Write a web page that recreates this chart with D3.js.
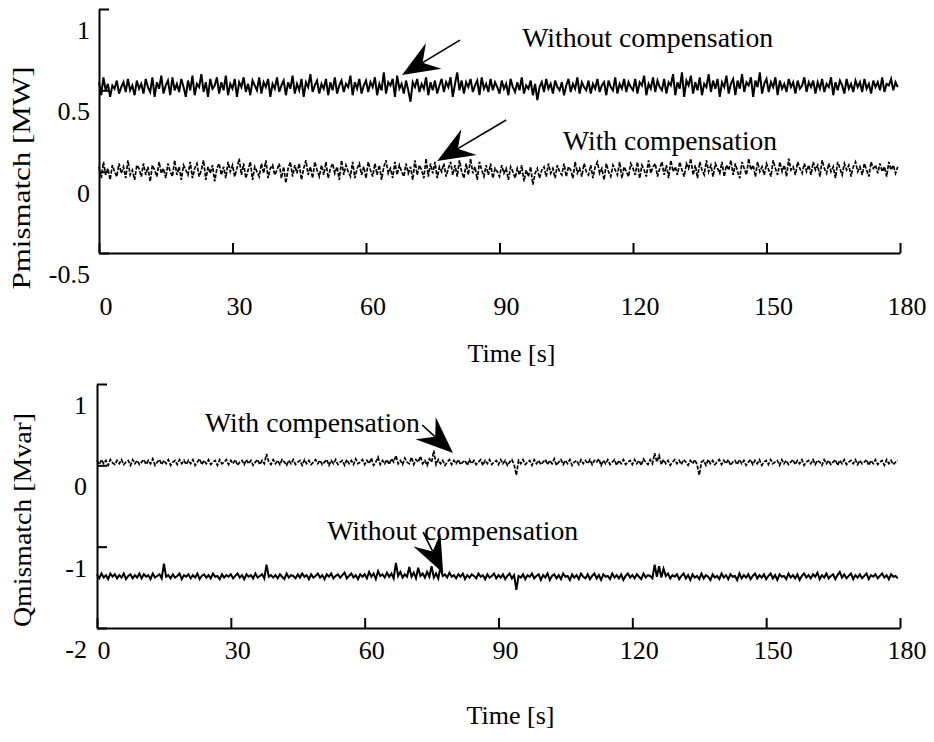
<!DOCTYPE html>
<html><head><meta charset="utf-8">
<script src="https://cdn.jsdelivr.net/npm/d3@7"></script>
<style>
html,body{margin:0;padding:0;background:#fff;}
svg text{font-family:"Liberation Serif","Times New Roman",Times,serif;fill:#000;}
</style></head>
<body><svg id="c" width="934" height="742"></svg>
<script>
// ---------- data ----------
const xTicks = [0, 30, 60, 90, 120, 150, 180];
const pTicks = [-0.5, 0, 0.5, 1];
const qTicks = [-2, -1, 0, 1];
const pTickLabels = ["-0.5", "0", "0.5", "1"];
const qTickLabels = ["-2", "-1", "0", "1"];
const sampleStep = 0.5;
const time = d3.range(0, 180, sampleStep);

const pWithout = [
.55,.47,.58,.50,.54,.46,.53,.51,.56,.48,.52,.55,.49,.57,.50,.53,.47,.56,.51,.54,
.48,.57,.52,.49,.58,.46,.55,.51,.59,.48,.53,.56,.47,.58,.50,.54,.49,.57,.52,.46,
.56,.50,.59,.47,.54,.52,.60,.49,.55,.46,.57,.51,.53,.58,.48,.55,.50,.59,.47,.54,
.51,.57,.46,.55,.52,.58,.49,.54,.47,.56,.53,.50,.58,.48,.55,.52,.57,.46,.54,.51,
.58,.49,.53,.56,.47,.55,.51,.59,.48,.54,.50,.57,.46,.55,.52,.60,.49,.53,.56,.48,
.54,.51,.57,.47,.55,.50,.58,.48,.53,.56,.49,.54,.52,.59,.47,.55,.51,.57,.48,.53,
.56,.49,.55,.52,.58,.47,.54,.50,.61,.48,.55,.53,.57,.46,.59,.51,.54,.48,.56,.50,
.43,.55,.52,.57,.49,.54,.51,.58,.47,.55,.50,.56,.48,.53,.57,.49,.55,.52,.58,.46,
.54,.61,.50,.56,.48,.55,.52,.57,.49,.53,.56,.47,.58,.51,.54,.49,.57,.50,.55,.52,
.48,.56,.51,.54,.47,.57,.52,.49,.55,.50,.58,.48,.53,.51,.56,.47,.54,.44,.52,.55,
.49,.57,.51,.54,.48,.56,.52,.50,.55,.47,.53,.57,.49,.54,.51,.58,.48,.55,.52,.50,
.56,.48,.54,.51,.57,.49,.53,.55,.47,.56,.52,.50,.58,.48,.54,.51,.57,.49,.55,.52,
.50,.57,.48,.55,.53,.59,.47,.54,.51,.58,.49,.56,.52,.50,.57,.48,.55,.53,.60,.47,
.55,.51,.61,.46,.56,.53,.59,.48,.55,.50,.58,.47,.54,.52,.60,.49,.56,.51,.57,.46,
.55,.52,.59,.48,.54,.57,.47,.56,.51,.60,.49,.55,.53,.58,.46,.56,.52,.61,.48,.54,
.57,.49,.55,.52,.58,.47,.56,.51,.54,.49,.57,.52,.55,.48,.56,.51,.53,.58,.49,.55,
.52,.56,.48,.55,.51,.57,.49,.54,.52,.58,.47,.55,.50,.56,.53,.48,.57,.51,.54,.49,
.56,.52,.55,.49,.57,.51,.54,.48,.56,.52,.55,.50,.58,.49,.54,.53,.57,.50,.55,.52];

const pWith = [
.03,-.04,.06,-.02,.02,-.05,.04,.00,-.03,.05,-.01,.03,-.04,.07,-.02,.01,-.05,.04,.02,-.03,
.05,-.02,.03,-.06,.04,.01,-.03,.06,-.01,.02,-.04,.05,.00,-.03,.07,-.02,.03,-.05,.04,.01,
-.02,.06,-.04,.02,.05,-.03,.01,.07,-.05,.03,-.01,.04,-.06,.02,.05,-.02,.03,-.04,.06,.00,
.04,-.03,.02,.08,-.02,.05,-.04,.01,.06,-.05,.03,.00,-.03,.05,-.01,.07,-.04,.02,.04,-.02,
.01,.05,-.04,.03,-.07,.02,.06,-.03,.04,-.01,.05,-.05,.02,.07,-.02,.03,-.04,.06,.01,-.03,
.04,-.02,.06,-.04,.02,.05,-.01,.03,-.05,.07,-.02,.04,.00,-.03,.06,-.04,.02,.05,-.02,.03,
-.04,.06,.01,-.03,.05,-.02,.04,-.05,.03,.07,-.01,.02,-.04,.06,-.02,.04,.00,-.03,.05,-.01,
.03,-.05,.07,-.02,.04,.01,-.04,.08,-.03,.05,-.01,.06,-.04,.03,.00,.05,-.03,.02,.06,-.02,
.04,-.03,.07,.00,-.04,.05,-.02,.08,-.01,.03,-.05,.06,.01,-.03,.04,-.02,.05,-.04,.02,.00,
-.03,.04,-.01,.02,-.05,.03,.00,-.04,.02,-.02,.04,-.06,.01,-.03,.03,-.08,-.01,.02,-.04,.01,
.03,-.03,.05,-.01,.02,-.04,.04,.00,-.02,.05,-.03,.03,.01,-.04,.06,-.01,.02,-.03,.05,.00,
-.02,.04,-.04,.03,.06,-.01,.02,-.05,.05,.00,-.03,.04,.01,-.02,.06,-.04,.03,.00,-.03,.05,
.02,-.02,.06,-.04,.04,.01,-.03,.07,-.01,.03,.05,-.03,.02,.06,-.02,.04,-.04,.07,.00,.03,
-.02,.06,.01,-.03,.05,.02,.08,-.02,.04,-.04,.06,.01,-.02,.07,.00,.04,-.03,.05,.02,-.01,
.06,-.03,.04,.01,.07,-.02,.05,.00,-.04,.06,.02,-.02,.08,.01,.04,-.03,.06,.00,.03,-.02,
.05,.01,-.03,.07,.02,-.02,.06,.00,.04,-.03,.08,.01,.03,-.02,.06,.02,-.01,.05,.00,.04,
-.02,.06,.01,.04,-.03,.07,.02,-.01,.05,.00,.03,-.04,.06,.02,-.02,.05,.01,.04,-.03,.03,
.06,.00,.03,-.02,.05,.01,-.03,.06,.02,.04,-.01,.05,.00,.03,-.03,.06,.01,.04,-.01,.03];

const qWithout = [
-1.34,-1.39,-1.33,-1.38,-1.35,-1.40,-1.33,-1.37,-1.34,-1.39,-1.35,-1.38,-1.33,-1.40,-1.36,-1.34,-1.39,-1.35,-1.38,-1.33,
-1.39,-1.34,-1.37,-1.35,-1.40,-1.33,-1.38,-1.36,-1.34,-1.39,-1.21,-1.37,-1.35,-1.39,-1.34,-1.38,-1.36,-1.33,-1.40,-1.35,
-1.37,-1.34,-1.39,-1.35,-1.38,-1.33,-1.40,-1.36,-1.34,-1.38,-1.35,-1.39,-1.33,-1.37,-1.36,-1.40,-1.34,-1.38,-1.35,-1.37,
-1.34,-1.39,-1.36,-1.33,-1.38,-1.35,-1.40,-1.34,-1.37,-1.35,-1.39,-1.33,-1.38,-1.36,-1.34,-1.39,-1.22,-1.37,-1.35,-1.38,
-1.35,-1.39,-1.34,-1.37,-1.40,-1.33,-1.38,-1.35,-1.36,-1.39,-1.34,-1.38,-1.33,-1.37,-1.35,-1.40,-1.34,-1.38,-1.36,-1.33,
-1.38,-1.35,-1.40,-1.34,-1.37,-1.33,-1.39,-1.36,-1.34,-1.38,-1.35,-1.32,-1.39,-1.36,-1.33,-1.38,-1.35,-1.40,-1.34,-1.37,
-1.34,-1.39,-1.31,-1.37,-1.33,-1.40,-1.30,-1.36,-1.34,-1.38,-1.32,-1.37,-1.33,-1.39,-1.20,-1.36,-1.31,-1.38,-1.34,-1.37,
-1.25,-1.37,-1.32,-1.39,-1.26,-1.36,-1.33,-1.38,-1.31,-1.37,-1.24,-1.38,-1.33,-1.39,-1.25,-1.36,-1.34,-1.38,-1.32,-1.37,
-1.35,-1.39,-1.34,-1.37,-1.33,-1.40,-1.35,-1.38,-1.34,-1.36,-1.39,-1.33,-1.37,-1.35,-1.40,-1.34,-1.38,-1.36,-1.33,-1.39,
-1.35,-1.38,-1.34,-1.40,-1.36,-1.33,-1.39,-1.35,-1.53,-1.36,-1.38,-1.34,-1.40,-1.35,-1.37,-1.33,-1.39,-1.36,-1.34,-1.41,
-1.35,-1.38,-1.33,-1.41,-1.36,-1.34,-1.39,-1.35,-1.40,-1.33,-1.37,-1.36,-1.41,-1.34,-1.38,-1.35,-1.40,-1.33,-1.37,-1.39,
-1.34,-1.40,-1.36,-1.33,-1.39,-1.35,-1.41,-1.34,-1.37,-1.36,-1.40,-1.33,-1.38,-1.35,-1.39,-1.34,-1.41,-1.36,-1.33,-1.38,
-1.35,-1.39,-1.34,-1.37,-1.40,-1.33,-1.38,-1.35,-1.36,-1.39,-1.22,-1.37,-1.24,-1.38,-1.27,-1.36,-1.33,-1.39,-1.35,-1.37,
-1.34,-1.40,-1.36,-1.33,-1.39,-1.35,-1.41,-1.34,-1.38,-1.36,-1.40,-1.33,-1.39,-1.35,-1.37,-1.41,-1.34,-1.38,-1.36,-1.40,
-1.33,-1.38,-1.35,-1.40,-1.34,-1.37,-1.36,-1.41,-1.33,-1.39,-1.35,-1.38,-1.34,-1.40,-1.36,-1.33,-1.39,-1.35,-1.38,-1.34,
-1.40,-1.36,-1.33,-1.39,-1.35,-1.41,-1.34,-1.37,-1.36,-1.40,-1.33,-1.38,-1.35,-1.39,-1.34,-1.41,-1.36,-1.33,-1.38,-1.35,
-1.39,-1.34,-1.37,-1.32,-1.40,-1.35,-1.38,-1.33,-1.39,-1.36,-1.34,-1.40,-1.35,-1.31,-1.38,-1.34,-1.39,-1.36,-1.33,-1.40,
-1.35,-1.38,-1.34,-1.39,-1.36,-1.33,-1.40,-1.35,-1.37,-1.34,-1.39,-1.36,-1.33,-1.38,-1.35,-1.40,-1.34,-1.37,-1.36,-1.39];

const qWith = [
.06,.01,.07,.02,.06,.00,.07,.03,.01,.06,.02,.07,.01,.04,.06,.00,.07,.02,.06,.01,
.04,.07,.01,.06,.02,.08,.00,.04,.07,.01,.06,.02,.07,.00,.04,.06,.01,.07,.02,.06,
.01,.06,.02,.07,.00,.04,.08,.01,.06,.02,.07,.01,.04,.06,.00,.07,.02,.04,.07,.01,
.06,.02,.07,.00,.04,.06,.01,.07,.02,.06,.00,.04,.07,.01,.06,.02,.14,.04,.01,.07,
.02,.06,.01,.07,.04,.00,.06,.02,.07,.01,.04,.06,.00,.07,.02,.06,.01,.04,.07,.02,
.06,.01,.04,.07,.00,.06,.02,.07,.01,.04,.06,.00,.07,.02,.06,.01,.08,.02,.04,.07,
.01,.06,.02,.09,.00,.04,.10,.01,.06,.02,.07,.01,.08,.04,.12,.02,.06,.01,.09,.04,
.02,.10,.01,.07,.04,.11,.02,.06,.00,.08,.04,.18,.01,.07,.02,.06,.00,.04,.07,.01,
.06,.02,.07,.01,.04,.06,.00,.07,.02,.06,.01,.04,.07,.00,.06,.02,.07,.01,.04,.06,
.01,.07,.02,.06,.00,.04,.07,.01,-.12,.06,.02,.07,.01,.04,.06,.00,.07,.02,.06,.01,
.04,.07,.01,.06,.02,.08,.00,.04,.07,.01,.06,.02,.07,.00,.04,.06,.01,.07,.02,.06,
.02,.07,.01,.06,.04,.08,.00,.06,.02,.07,.01,.04,.07,.00,.06,.02,.07,.01,.04,.06,
.01,.07,.02,.06,.00,.08,.04,.01,.07,.02,.15,.04,.12,.01,.07,.02,.06,.00,.04,.07,
.02,.06,.01,.07,.04,.00,.06,.02,.07,.01,-.12,.04,.06,.00,.07,.02,.06,.01,.04,.07,
.01,.06,.02,.07,.00,.04,.06,.01,.07,.02,.06,.00,.04,.07,.01,.06,.02,.07,.00,.04,
.06,.01,.07,.02,.04,.06,.00,.07,.02,.06,.01,.04,.07,.01,.06,.02,.07,.00,.04,.06,
.02,.07,.01,.06,.04,.00,.07,.02,.06,.01,.04,.07,.00,.06,.02,.07,.01,.04,.06,.02,
.07,.01,.06,.02,.04,.07,.00,.06,.02,.07,.01,.04,.06,.00,.07,.02,.06,.01,.04,.06];

// annotations (data coordinates)
const pAnnoText = ["Without compensation", "With compensation"];
const pAnnoTextPos = [[95.1, 0.766], [104.3, 0.133]];
const pArrowTail = [[81.1, 0.809], [91.5, 0.318]];
const pArrowTip  = [[68.1, 0.594], [76.0, 0.066]];
const qAnnoText = ["With compensation", "Without compensation"];
const qAnnoTextPos = [[24.2, 0.41], [51.6, -0.918]];
const qArrowTail = [[72.9, 0.496], [73.1, -0.820]];
const qArrowTip  = [[79.8, 0.152], [77.6, -1.324]];

// ---------- drawing ----------
const svg = d3.select("#c");
const panels = [
  {xr:[99,900], yd:[-0.5,1], yr:[253,9], ticks:pTicks, tl:pTickLabels, series:[pWithout,pWith],
   ylabel:"Pmismatch [MW]", ylabX:30, ylabY:178, ylabLen:223, xlabBase:315, tlabBase:362, yLabEnd:90,
   at:pAnnoText, ap:pAnnoTextPos, atl:[251,214], tail:pArrowTail, tip:pArrowTip},
  {xr:[97,900], yd:[-2,1], yr:[628,384], ticks:qTicks, tl:qTickLabels, series:[qWithout,qWith],
   ylabel:"Qmismatch [Mvar]", ylabX:31, ylabY:520, ylabLen:214, xlabBase:659, tlabBase:724, yLabEnd:87,
   at:qAnnoText, ap:qAnnoTextPos, atl:[215,251], tail:qArrowTail, tip:qArrowTip}
];

panels.forEach(p => {
  const x = d3.scaleLinear().domain([0,180]).range(p.xr);
  const y = d3.scaleLinear().domain(p.yd).range(p.yr);
  const g = svg.append("g");

  // series
  const line = d3.line().x((d,i)=>x(time[i])).y(d=>y(d));
  g.append("path").datum(p.series[0]).attr("d", line)
    .attr("fill","none").attr("stroke","#000").attr("stroke-width",2);
  g.append("path").datum(p.series[1]).attr("d", line)
    .attr("fill","none").attr("stroke","#000").attr("stroke-width",1.7)
    .attr("stroke-dasharray","4,1.5");

  // axes
  const xa = g.append("g").attr("transform",`translate(0,${p.yr[0]})`)
    .call(d3.axisBottom(x).tickValues(xTicks).tickSizeInner(-10).tickSizeOuter(0).tickFormat(""));
  const ya = g.append("g").attr("transform",`translate(${p.xr[0]},0)`)
    .call(d3.axisLeft(y).tickValues(p.ticks).tickSizeInner(-10).tickSizeOuter(0).tickFormat(""));
  [xa,ya].forEach(a=>{
    a.selectAll("path,line").attr("stroke","#000").attr("stroke-width",2);
  });

  // tick labels
  g.selectAll(".xl").data(xTicks).enter().append("text")
    .attr("x",d=>x(d)+7).attr("y",p.xlabBase).attr("text-anchor","middle")
    .attr("font-size",26).text(d=>d);
  g.selectAll(".yl").data(p.ticks).enter().append("text")
    .attr("x",p.yLabEnd).attr("y",d=>y(d)+30).attr("text-anchor","end")
    .attr("font-size",26).text((d,i)=>p.tl[i]);

  // axis titles
  g.append("text").attr("x",(p.xr[0]+p.xr[1])/2+12).attr("y",p.tlabBase)
    .attr("text-anchor","middle").attr("font-size",26).text("Time [s]");
  g.append("text").attr("transform",`translate(${p.ylabX},${p.ylabY}) rotate(-90)`)
    .attr("text-anchor","middle").attr("font-size",26)
    .attr("textLength",p.ylabLen).attr("lengthAdjust","spacingAndGlyphs").text(p.ylabel);

  // annotations
  p.at.forEach((t,i)=>{
    g.append("text").attr("x",x(p.ap[i][0])).attr("y",y(p.ap[i][1]))
      .attr("font-size",27).attr("textLength",p.atl[i]).attr("lengthAdjust","spacingAndGlyphs").text(t);
    const tx=x(p.tail[i][0]), ty=y(p.tail[i][1]), px=x(p.tip[i][0]), py=y(p.tip[i][1]);
    const dx=tx-px, dy=ty-py, L=Math.hypot(dx,dy), ux=dx/L, uy=dy/L, nx=-uy, ny=ux;
    const HL=37, HW=15, N=24;
    g.append("line").attr("x1",tx).attr("y1",ty).attr("x2",px+ux*N).attr("y2",py+uy*N)
      .attr("stroke","#000").attr("stroke-width",1.6);
    g.append("path").attr("d",`M${px},${py}L${px+ux*HL+nx*HW},${py+uy*HL+ny*HW}L${px+ux*N},${py+uy*N}L${px+ux*HL-nx*HW},${py+uy*HL-ny*HW}Z`)
      .attr("fill","#000");
  });
});
</script></body></html>
